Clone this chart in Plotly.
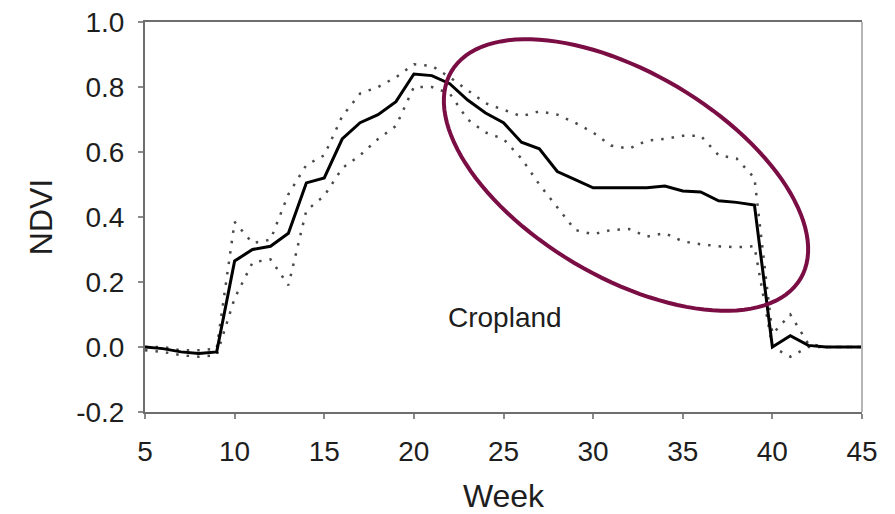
import numpy as np
import plotly.graph_objects as go

weeks = list(range(5, 46))
mean_ndvi = [0.00, -0.005, -0.015, -0.02, -0.015, 0.265, 0.30, 0.31, 0.35, 0.505,
             0.52, 0.64, 0.69, 0.715, 0.755, 0.84, 0.835, 0.81, 0.76, 0.72,
             0.69, 0.63, 0.61, 0.54, 0.515, 0.49, 0.49, 0.49, 0.49, 0.495,
             0.48, 0.477, 0.45, 0.445, 0.437, 0.0, 0.035, 0.005, 0.0, 0.0, 0.0]
upper_ndvi = [0.0, 0.0, -0.01, -0.01, -0.005, 0.385, 0.32, 0.33, 0.47, 0.56,
              0.59, 0.71, 0.78, 0.80, 0.83, 0.87, 0.865, 0.83, 0.79, 0.75,
              0.73, 0.71, 0.725, 0.715, 0.69, 0.66, 0.62, 0.61, 0.635, 0.64,
              0.65, 0.65, 0.59, 0.58, 0.52, 0.04, 0.10, 0.01, 0.0, 0.0, 0.0]
lower_ndvi = [-0.01, -0.015, -0.025, -0.03, -0.025, 0.15, 0.26, 0.27, 0.19, 0.42,
              0.465, 0.55, 0.59, 0.64, 0.68, 0.80, 0.80, 0.78, 0.70, 0.66,
              0.64, 0.58, 0.50, 0.43, 0.36, 0.347, 0.36, 0.363, 0.34, 0.35,
              0.325, 0.316, 0.31, 0.307, 0.31, 0.0, -0.03, 0.0, 0.0, 0.0, 0.0]

x_ticks = [5, 10, 15, 20, 25, 30, 35, 40, 45]
y_ticks = [-0.2, 0.0, 0.2, 0.4, 0.6, 0.8, 1.0]
y_ticktext = [f"{v:.1f}" for v in y_ticks]
x_range = [5, 45]
y_range = [-0.2, 1.0]

W, H = 895, 514
ML, MR, MT, MB = 145, 33, 22, 102
PW, PH = W - ML - MR, H - MT - MB

FONT = "Liberation Sans, Arial, sans-serif"
TXT = "#1e1e1e"

fig = go.Figure()
for band in (upper_ndvi, lower_ndvi):
    fig.add_trace(go.Scatter(x=weeks, y=band, mode="lines",
                             line=dict(color="#4a4a4a", width=2.5, dash="2.5px,8px"),
                             showlegend=False))
fig.add_trace(go.Scatter(x=weeks, y=mean_ndvi, mode="lines",
                         line=dict(color="#000000", width=3),
                         showlegend=False))

# Highlight ellipse (defined in pixel space of the plot area, converted to data)
cx, cy, a, b, theta = 626 - ML, 175 - MT, 203.0, 102.0, np.deg2rad(30.7)
t = np.linspace(0, 2 * np.pi, 121)
px = cx + a * np.cos(theta) * np.cos(t) - b * np.sin(theta) * np.sin(t)
py = cy + a * np.sin(theta) * np.cos(t) + b * np.cos(theta) * np.sin(t)
ex = x_range[0] + px / PW * (x_range[1] - x_range[0])
ey = y_range[1] - py / PH * (y_range[1] - y_range[0])
path = "M " + " L ".join(f"{u:.4f},{v:.4f}" for u, v in zip(ex, ey)) + " Z"
fig.add_shape(type="path", path=path, xref="x", yref="y",
              line=dict(color="#7b0d45", width=4))

# right border (lighter)
fig.add_shape(type="line", xref="paper", yref="paper", x0=1, x1=1, y0=0, y1=1,
              line=dict(color="#b5b5b5", width=2))

fig.add_annotation(x=25.1, y=0.09, text="Cropland", showarrow=False,
                   font=dict(family=FONT, size=28, color=TXT))

fig.update_layout(
    width=W, height=H,
    margin=dict(l=ML, r=MR, t=MT, b=MB),
    paper_bgcolor="white", plot_bgcolor="white",
    font=dict(family=FONT, color=TXT),
)
fig.update_xaxes(range=x_range, tickvals=x_ticks, showgrid=False, zeroline=False,
                 showline=True, linecolor="#6e6e6e", linewidth=2, mirror=True,
                 ticks="outside", ticklen=5, tickwidth=2, tickcolor="#8a8a8a",
                 ticklabelstandoff=8, automargin=False,
                 tickfont=dict(family=FONT, size=28, color=TXT),
                 title=dict(text="Week", font=dict(family=FONT, size=32, color=TXT), standoff=21))
fig.update_yaxes(range=y_range, tickvals=y_ticks, ticktext=y_ticktext, showgrid=False, zeroline=False,
                 showline=True, linecolor="#6e6e6e", linewidth=2,
                 ticks="outside", ticklen=5, tickwidth=2, tickcolor="#8a8a8a",
                 ticklabelstandoff=8, automargin=False,
                 tickfont=dict(family=FONT, size=28, color=TXT),
                 title=dict(text="NDVI", font=dict(family=FONT, size=32, color=TXT), standoff=14))

fig.write_html("out.html")
